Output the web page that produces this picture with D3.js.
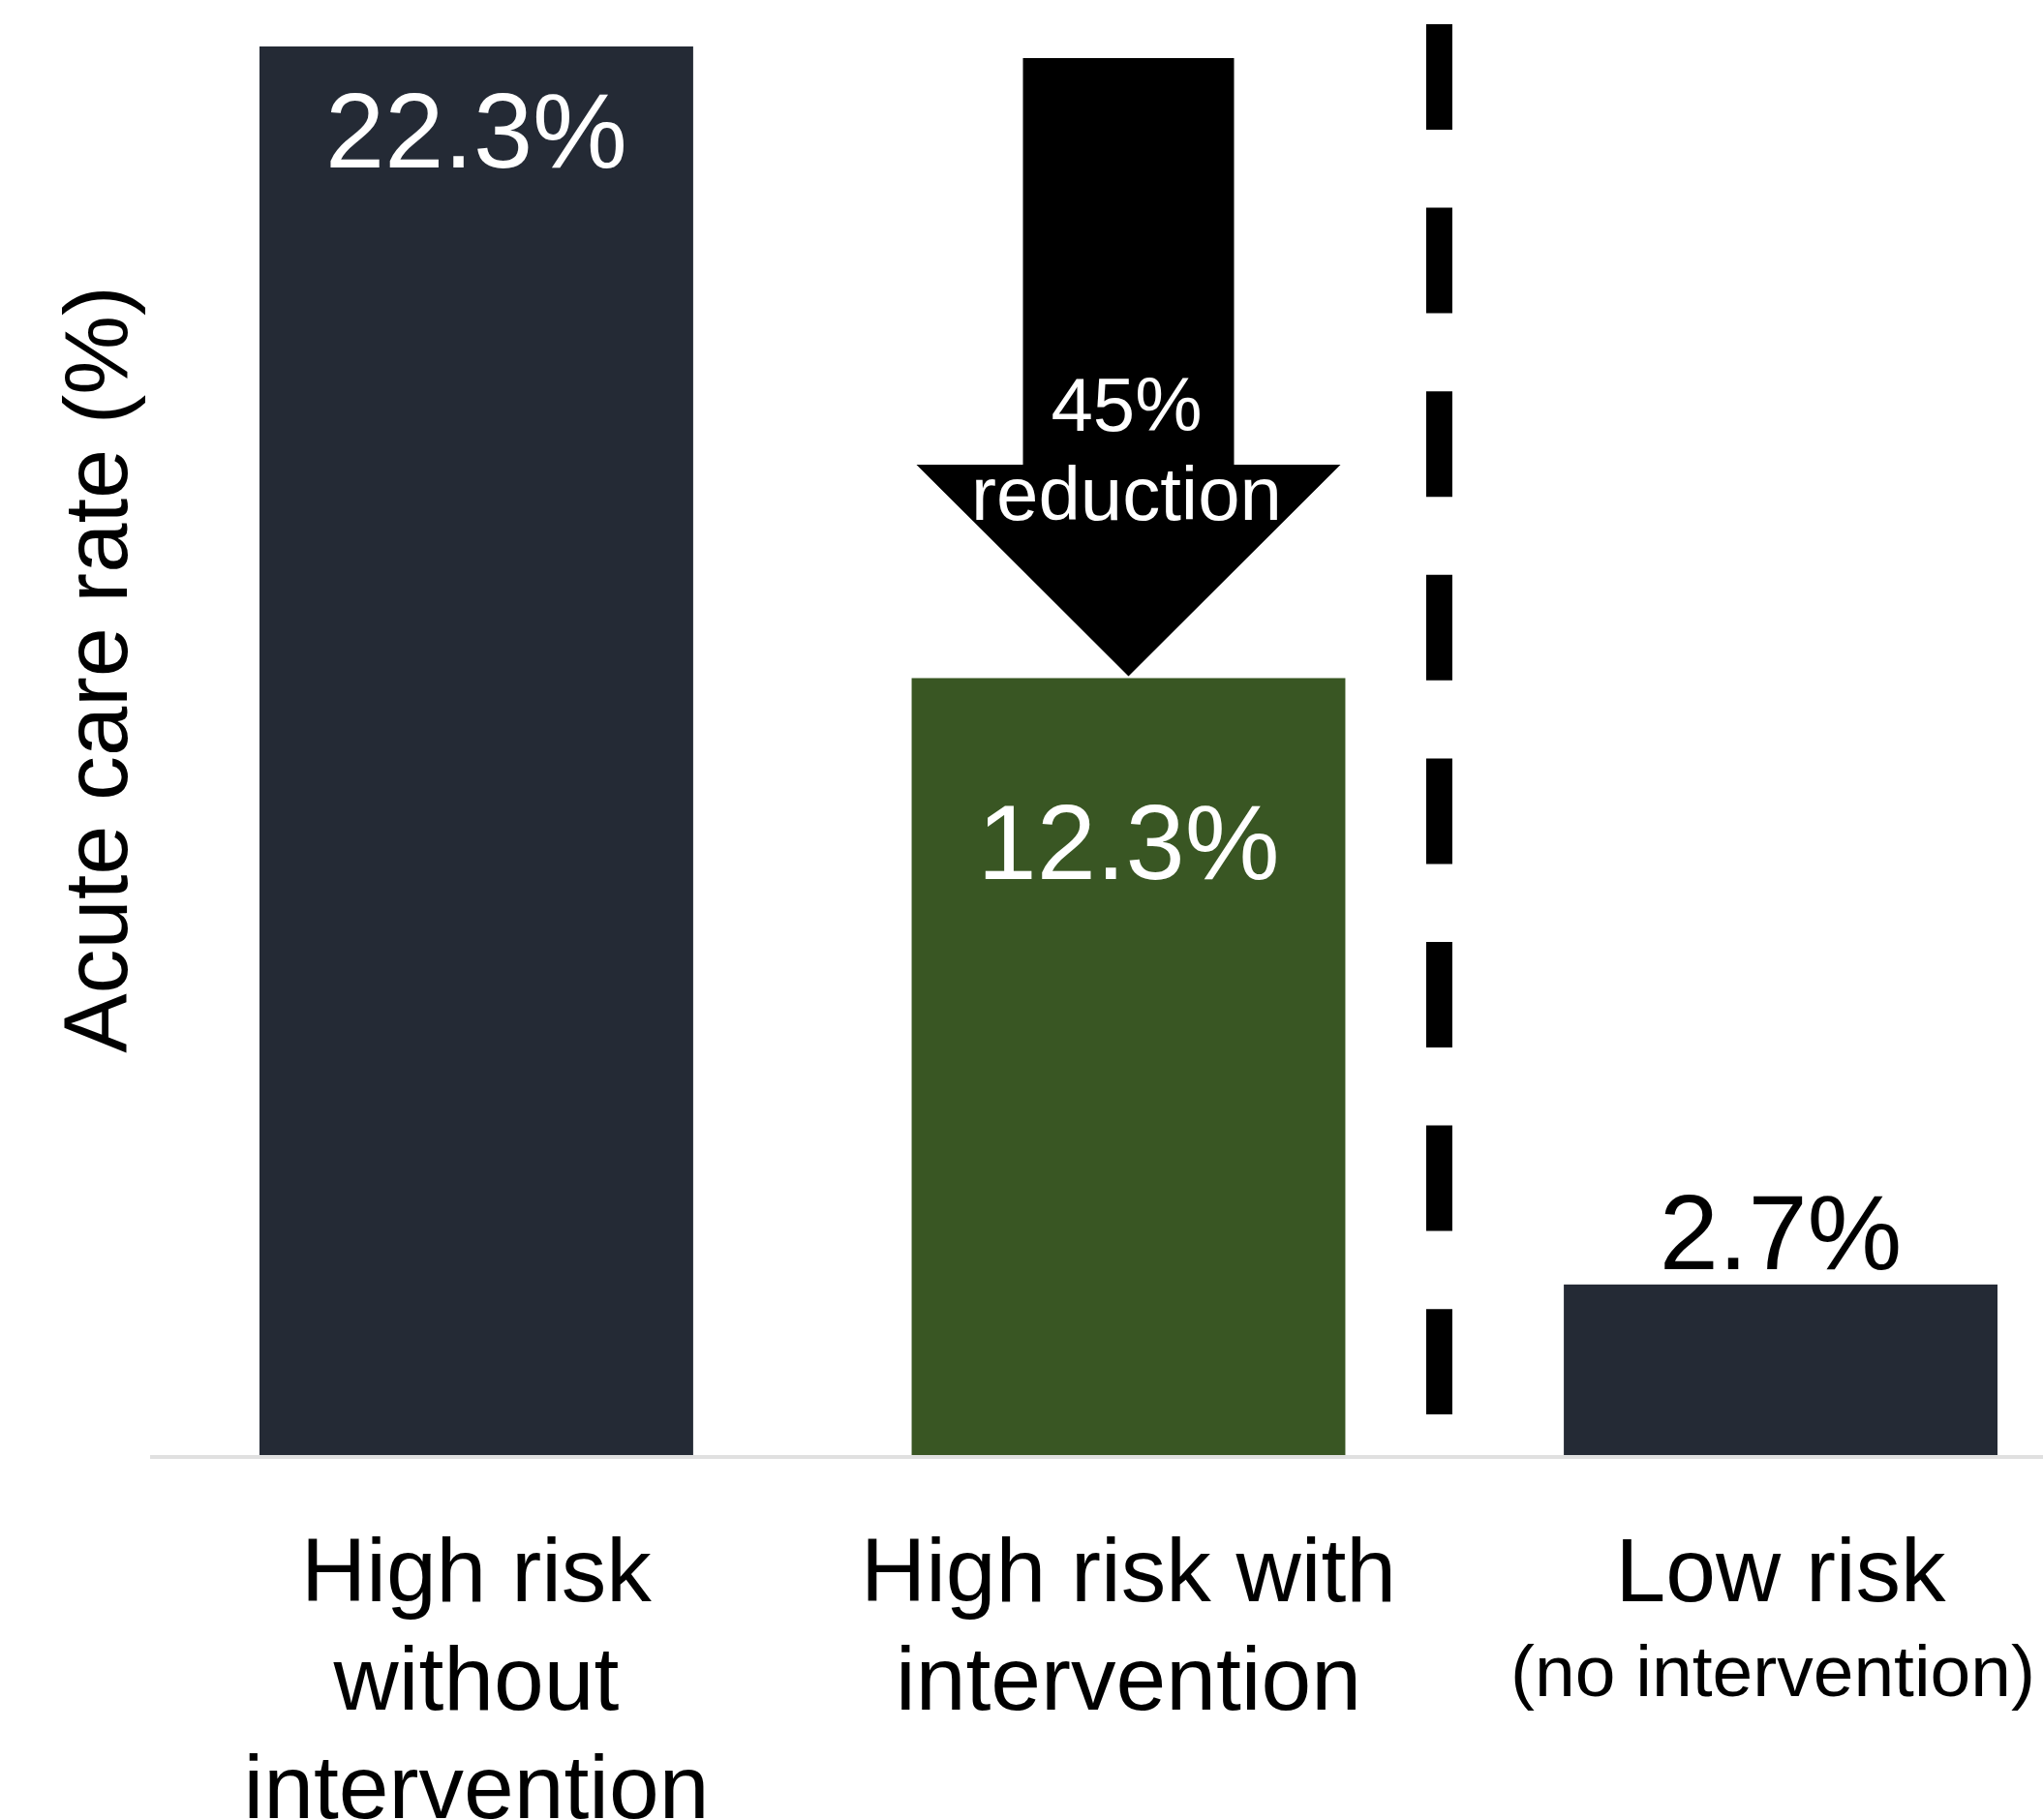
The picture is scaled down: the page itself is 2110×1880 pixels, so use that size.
<!DOCTYPE html>
<html>
<head>
<meta charset="utf-8">
<script src="https://cdn.jsdelivr.net/npm/d3@7"></script>
<style>
  html, body { margin: 0; padding: 0; background: #fff; }
  svg { display: block; font-family: "Liberation Sans", Arial, Helvetica, sans-serif; }
</style>
</head>
<body>
<svg id="chart" width="2110" height="1880"></svg>
<script>
// Acute care rate by risk group
const categories = ["highNo", "highWith", "low"];
const categoryLines = [
  ["High risk", "without", "intervention"],
  ["High risk with", "intervention"],
  ["Low risk", "(no intervention)"]
];
const rates = [22.3, 12.3, 2.7];
const rateLabels = ["22.3%", "12.3%", "2.7%"];
const barColors = ["#242a35", "#395623", "#242a35"];
const reductionLines = ["45%", "reduction"];
const yAxisTitle = "Acute care rate (%)";

const svg = d3.select("#chart");

const x = d3.scaleBand()
  .domain(categories)
  .range([268, 2063])
  .paddingInner(0.335)
  .paddingOuter(0);

const y = d3.scaleLinear()
  .domain([0, 22.3])
  .range([1503, 48]);

// baseline rule
svg.append("line")
  .attr("x1", 155).attr("x2", 2110)
  .attr("y1", y(0) + 2).attr("y2", y(0) + 2)
  .attr("stroke", "#e0e0e0")
  .attr("stroke-width", 4);

// bars
svg.selectAll("rect.bar")
  .data(categories)
  .join("rect")
  .attr("class", "bar")
  .attr("x", d => x(d))
  .attr("width", x.bandwidth())
  .attr("y", (d, i) => y(rates[i]))
  .attr("height", (d, i) => y(0) - y(rates[i]))
  .attr("fill", (d, i) => barColors[i]);

// value labels: inside the tall bars, above the short one
const valueLabelPos = [
  { inside: true, dy: 125 },
  { inside: true, dy: 208 },
  { inside: false, dy: -16 }
];
svg.selectAll("text.value")
  .data(categories)
  .join("text")
  .attr("class", "value")
  .attr("x", d => x(d) + x.bandwidth() / 2)
  .attr("y", (d, i) => y(rates[i]) + valueLabelPos[i].dy)
  .attr("text-anchor", "middle")
  .attr("font-size", 110)
  .attr("fill", (d, i) => valueLabelPos[i].inside ? "#ffffff" : "#000000")
  .text((d, i) => rateLabels[i]);

// category labels under the axis
const labelG = svg.append("g");
categories.forEach((c, i) => {
  const cx = x(c) + x.bandwidth() / 2;
  const t = labelG.append("text")
    .attr("text-anchor", "middle")
    .attr("fill", "#000");
  categoryLines[i].forEach((line, j) => {
    const small = line.startsWith("(");
    t.append("tspan")
      .attr("x", small ? cx - 8 : cx)
      .attr("y", 1654 + j * (small ? 98 : 112))
      .attr("font-size", small ? 75 : 93)
      .text(line);
  });
});

// dashed separator between the high-risk and low-risk groups
const sepX = x("highWith") + x.bandwidth() + 97;
svg.append("line")
  .attr("x1", sepX).attr("x2", sepX)
  .attr("y1", 25).attr("y2", 1461)
  .attr("stroke", "#000")
  .attr("stroke-width", 27)
  .attr("stroke-dasharray", "109 80.6");

// down arrow from the untreated rate to the treated rate
const ax = x("highWith") + x.bandwidth() / 2;
const arrowTop = y(rates[0]) + 12;
const arrowTip = y(rates[1]) - 2;
const headTop = 480;
const shaftHalf = 109;
const headHalf = 219;
const arrowPath = d3.path();
arrowPath.moveTo(ax - shaftHalf, arrowTop);
arrowPath.lineTo(ax + shaftHalf, arrowTop);
arrowPath.lineTo(ax + shaftHalf, headTop);
arrowPath.lineTo(ax + headHalf, headTop);
arrowPath.lineTo(ax, arrowTip);
arrowPath.lineTo(ax - headHalf, headTop);
arrowPath.lineTo(ax - shaftHalf, headTop);
arrowPath.closePath();
svg.append("path")
  .attr("d", arrowPath.toString())
  .attr("fill", "#000");

const arrowText = svg.append("text")
  .attr("text-anchor", "middle")
  .attr("fill", "#fff")
  .attr("font-size", 78);
reductionLines.forEach((line, j) => {
  arrowText.append("tspan")
    .attr("x", ax - 2)
    .attr("y", 445 + j * 92)
    .text(line);
});

// y-axis title
svg.append("text")
  .attr("transform", `translate(131, ${(y(0) + y(rates[0])) / 2 - 84}) rotate(-90)`)
  .attr("text-anchor", "middle")
  .attr("font-size", 92)
  .attr("fill", "#000")
  .text(yAxisTitle);
</script>
</body>
</html>
